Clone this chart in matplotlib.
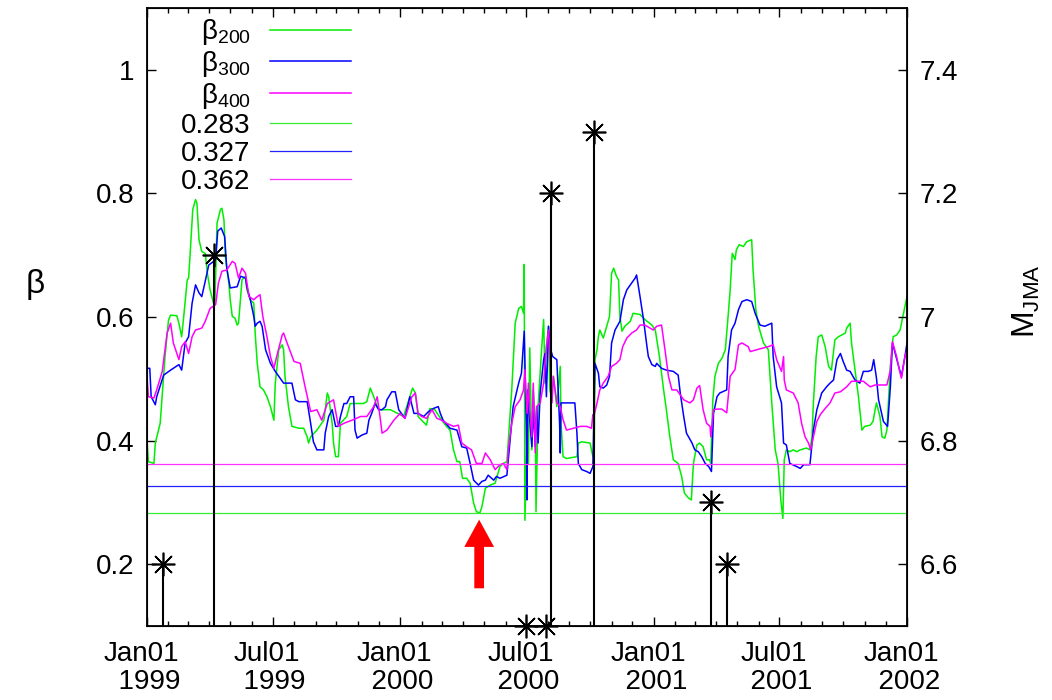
import matplotlib
matplotlib.use("Agg")
import matplotlib.pyplot as plt
import matplotlib.dates as mdates
from matplotlib.ticker import FuncFormatter
from matplotlib.transforms import ScaledTranslation
import pandas as pd

plt.rcParams['font.family'] = ['Liberation Sans', 'DejaVu Sans']
plt.rcParams['mathtext.fontset'] = 'custom'
plt.rcParams['mathtext.rm'] = 'Liberation Sans'
plt.rcParams['mathtext.it'] = 'Liberation Sans:italic'
plt.rcParams['mathtext.default'] = 'regular'

start = pd.Timestamp('1999-01-01')
end = pd.Timestamp('2002-01-01')

# beta_200 : days since 1999-01-01 and value
b200_day = [0, 2, 10, 12, 19, 26, 31, 34, 43, 46, 50, 53, 58, 60, 62, 66, 70, 72, 75, 79,
            84, 87, 91, 96, 98, 101, 106, 108, 111, 113, 118, 120, 123, 127, 130, 132, 135, 137, 142, 144,
            149, 154, 156, 159, 163, 168, 173, 178, 183, 185, 190, 195, 197, 199, 204, 209, 219, 226, 231, 233,
            236, 245, 255, 260, 262, 267, 269, 272, 276, 279, 288, 293, 312, 317, 322, 327, 332, 336, 351, 365,
            370, 379, 383, 387, 391, 396, 403, 408, 415, 425, 432, 437, 442, 447, 451, 455, 461, 466, 471, 475,
            480, 483, 488, 495, 502, 509, 514, 519, 526, 531, 536, 540, 543, 544, 545, 548, 550, 552, 555, 557,
            560, 561, 564, 569, 572, 574, 576, 579, 581, 584, 586, 591, 596, 597, 600, 605, 620, 622, 627, 639,
            643, 645, 646, 649, 651, 653, 658, 663, 667, 670, 673, 677, 680, 682, 685, 689, 697, 701, 711, 718,
            728, 733, 739, 745, 749, 754, 759, 766, 771, 775, 781, 785, 788, 793, 797, 802, 807, 811, 813, 816,
            819, 824, 829, 834, 838, 841, 844, 848, 850, 854, 860, 865, 872, 874, 878, 882, 889, 896, 901, 906,
            910, 914, 917, 919, 922, 927, 932, 937, 942, 951, 956, 959, 961, 965, 968, 973, 978, 983, 987, 992,
            997, 1002, 1007, 1009, 1014, 1016, 1021, 1026, 1031, 1035, 1043, 1047, 1050, 1052, 1057, 1060, 1064,
            1067, 1072, 1076, 1081, 1086, 1091, 1096]
b200_val = [.401, .366, .363, .396, .428, .536, .595, .603, .602, .590, .568, .601, .660, .663, .698, .774, .790, .784, .725, .706,
            .703, .671, .644, .622, .625, .752, .774, .776, .757, .698, .655, .628, .601, .598, .587, .590, .633, .660, .666, .644,
            .628, .622, .574, .525, .487, .482, .471, .455, .433, .493, .547, .555, .547, .504, .455, .423, .420, .420, .406, .396,
            .406, .417, .433, .477, .471, .428, .396, .374, .374, .428, .439, .460, .460, .463, .485, .471, .455, .450, .450, .442,
            .439, .471, .485, .477, .439, .433, .425, .452, .450, .433, .423, .417, .385, .366, .366, .339, .339, .331, .299, .285,
            .283, .293, .323, .328, .331, .358, .363, .366, .482, .590, .614, .617, .606, .685, .271, .401, .363, .550, .385, .482,
            .428, .285, .455, .547, .596, .493, .552, .585, .482, .466, .504, .455, .520, .428, .374, .371, .374, .396, .398, .396,
            .374, .390, .531, .547, .569, .579, .566, .585, .601, .671, .679, .666, .660, .601, .577, .585, .593, .606, .604, .596,
            .587, .579, .536, .482, .450, .406, .369, .363, .342, .315, .307, .304, .363, .393, .396, .390, .369, .369, .363, .466,
            .504, .525, .533, .547, .601, .644, .703, .693, .709, .717, .714, .722, .725, .676, .612, .585, .558, .547, .461, .385,
            .363, .304, .274, .369, .385, .382, .385, .382, .385, .388, .385, .406, .461, .536, .568, .571, .552, .520, .514, .563,
            .568, .571, .574, .582, .590, .558, .514, .471, .417, .423, .425, .431, .450, .461, .439, .406, .404,
            .417, .520, .568, .571, .579, .606, .633]

# beta_300
b300_day = [0, 4, 6, 12, 14, 24, 34, 46, 50, 55, 60, 65, 70, 75, 79, 84, 89, 96, 99, 102,
            107, 112, 115, 120, 130, 135, 142, 144, 149, 154, 156, 159, 163, 166, 171, 178, 185, 190, 197, 209,
            214, 219, 231, 236, 240, 245, 255, 257, 262, 267, 272, 276, 279, 284, 288, 293, 298, 300, 303, 310,
            317, 320, 324, 329, 334, 339, 344, 346, 353, 358, 363, 372, 379, 385, 391, 399, 406, 413, 420, 423,
            427, 437, 447, 454, 461, 466, 471, 478, 483, 488, 492, 500, 504, 509, 519, 524, 528, 536, 540, 544,
            547, 548, 549, 552, 555, 557, 560, 562, 564, 567, 569, 572, 574, 576, 579, 581, 585, 591, 595, 596,
            597, 605, 617, 620, 622, 627, 634, 639, 643, 646, 651, 653, 658, 663, 667, 670, 675, 682, 687, 692,
            699, 704, 706, 711, 716, 721, 723, 728, 733, 735, 742, 749, 759, 766, 769, 774, 778, 786, 790, 795,
            800, 805, 810, 814, 817, 822, 826, 836, 838, 843, 848, 853, 858, 865, 872, 877, 884, 891, 901, 903,
            908, 915, 918, 922, 927, 937, 942, 947, 956, 961, 966, 973, 980, 985, 990, 995, 1000, 1004, 1009, 1014,
            1021, 1028, 1033, 1040, 1045, 1048, 1052, 1055, 1062, 1068, 1072, 1075, 1079, 1084, 1088, 1093, 1096]
b300_val = [.517, .517, .471, .458, .471, .506, .514, .523, .514, .558, .568, .622, .652, .639, .633, .658, .684, .690, .693, .739,
            .744, .730, .679, .647, .649, .666, .663, .649, .628, .601, .585, .590, .593, .585, .547, .525, .512, .504, .493, .493,
            .466, .463, .463, .428, .398, .385, .385, .412, .439, .450, .423, .423, .439, .460, .460, .471, .471, .417, .404, .409,
            .412, .433, .444, .460, .450, .450, .455, .466, .479, .479, .450, .436, .471, .444, .444, .439, .447, .452, .455, .444,
            .433, .420, .417, .390, .388, .363, .336, .328, .334, .336, .344, .336, .342, .339, .344, .406, .455, .493, .509, .577,
            .423, .304, .482, .433, .390, .450, .390, .455, .396, .477, .498, .531, .541, .471, .585, .552, .536, .531, .428, .380,
            .461, .461, .461, .412, .363, .353, .350, .347, .358, .525, .509, .487, .485, .490, .504, .558, .579, .593, .628, .644,
            .655, .663, .668, .633, .596, .552, .536, .523, .520, .525, .517, .514, .512, .506, .477, .439, .412, .396, .385, .382,
            .374, .363, .358, .350, .444, .471, .477, .482, .536, .579, .590, .612, .625, .628, .625, .606, .587, .585, .590, .536,
            .487, .461, .396, .393, .363, .358, .355, .361, .361, .417, .450, .477, .487, .493, .498, .531, .541, .528, .514, .512,
            .498, .493, .512, .512, .514, .531, .501, .466, .431, .423, .487, .558, .541, .520, .504, .536, .558]

# beta_400
b400_day = [0, 2, 10, 14, 22, 29, 34, 38, 46, 50, 55, 60, 65, 70, 79, 84, 91, 99, 103, 108,
            115, 123, 127, 132, 137, 142, 147, 154, 159, 163, 167, 173, 178, 183, 187, 195, 197, 202, 212, 221,
            228, 236, 245, 252, 260, 269, 276, 284, 298, 308, 317, 327, 332, 336, 339, 346, 356, 365, 372, 382,
            387, 391, 396, 403, 411, 418, 425, 432, 442, 449, 454, 461, 468, 475, 483, 488, 495, 502, 509, 514,
            519, 521, 526, 531, 538, 543, 545, 548, 550, 552, 555, 557, 560, 562, 567, 572, 576, 579, 581, 584,
            586, 591, 596, 600, 605, 615, 625, 634, 641, 643, 645, 649, 653, 658, 665, 670, 677, 682, 686, 692,
            699, 706, 711, 718, 730, 735, 742, 747, 752, 757, 764, 774, 783, 788, 793, 797, 802, 807, 812, 813,
            817, 822, 829, 836, 841, 848, 853, 858, 867, 870, 879, 889, 896, 903, 908, 915, 918, 919, 922, 932,
            939, 944, 949, 954, 957, 961, 966, 971, 978, 985, 992, 1000, 1009, 1016, 1026, 1033, 1043, 1050, 1059, 1067,
            1072, 1075, 1081, 1085, 1088, 1093, 1096]
b400_val = [.504, .471, .469, .482, .512, .574, .590, .558, .531, .552, .560, .541, .568, .579, .582, .593, .614, .620, .655, .674,
            .676, .690, .687, .663, .679, .671, .633, .628, .633, .636, .601, .568, .536, .517, .536, .571, .574, .558, .528, .525,
            .487, .447, .450, .433, .460, .466, .423, .428, .434, .439, .439, .455, .471, .439, .412, .417, .433, .444, .436, .471,
            .477, .444, .439, .436, .450, .436, .433, .428, .423, .425, .396, .390, .385, .363, .363, .380, .369, .353, .361, .363,
            .353, .385, .428, .455, .466, .482, .515, .444, .493, .450, .406, .493, .380, .455, .461, .493, .552, .579, .541, .461,
            .504, .461, .455, .434, .417, .420, .423, .423, .420, .442, .442, .461, .482, .493, .504, .520, .525, .531, .552, .566,
            .574, .579, .587, .587, .579, .585, .587, .547, .504, .482, .482, .466, .461, .466, .485, .489, .450, .428, .423, .406,
            .450, .451, .451, .445, .504, .515, .555, .558, .552, .544, .547, .550, .552, .555, .531, .512, .536, .498, .482, .477,
            .461, .428, .406, .396, .385, .406, .431, .442, .452, .461, .477, .479, .487, .496, .496, .496, .487, .490, .490, .490,
            .514, .560, .536, .514, .501, .536, .547]

thresholds = [0.283, 0.327, 0.362]
threshold_labels = ['0.283', '0.327', '0.362']

# earthquakes (date, M_JMA)
quake_dates = ['1999-01-24', '1999-04-08', '2000-07-01', '2000-07-30',
               '2000-08-06', '2000-10-06', '2001-03-24', '2001-04-16']
quake_mag = [6.6, 7.1, 6.5, 6.5, 7.2, 7.3, 6.7, 6.6]

arrow_date = '2000-04-24'
arrow_from, arrow_to = 0.161, 0.272

green, blue, magenta = '#00ee00', '#0000ff', '#ff00ff'


def to_dates(days):
    return start + pd.to_timedelta(days, unit='D')


fig = plt.figure(figsize=(10.52, 7), dpi=100)
ax = fig.add_axes([147 / 1052, 1 - 626 / 700, 760 / 1052, 618 / 700])

l1, = ax.plot(to_dates(b200_day), b200_val, color=green, lw=1.1, label='β$_{200}$')
l2, = ax.plot(to_dates(b300_day), b300_val, color=blue, lw=1.1, label='β$_{300}$')
l3, = ax.plot(to_dates(b400_day), b400_val, color=magenta, lw=1.1, label='β$_{400}$')
hl = []
for v, lab, c in zip(thresholds, threshold_labels, ['#33ee33', '#2222ff', '#ff33ff']):
    hl.append(ax.axhline(v, color=c, lw=0.9, label=lab))

# red arrow
xa = mdates.date2num(pd.Timestamp(arrow_date))
ax.arrow(xa, arrow_from, 0, arrow_to - arrow_from, width=14, head_width=43,
         head_length=0.044, length_includes_head=True, color='red', lw=0)

ax.set_xlim(start, end)
ax.set_ylim(0.1, 1.1)
ax.set_yticks([0.2, 0.4, 0.6, 0.8, 1.0])
ax.yaxis.set_major_formatter(FuncFormatter(lambda v, p: '%g' % v))
ax.xaxis.set_major_locator(mdates.MonthLocator(bymonth=[1, 7]))
ax.xaxis.set_minor_locator(mdates.MonthLocator())
ax.xaxis.set_major_formatter(mdates.DateFormatter('%b%d\n  %Y'))
ax.tick_params(axis='x', which='both', direction='in', top=True, labelsize=20, pad=11)
ax.tick_params(axis='x', which='major', length=6.5, width=1)
ax.tick_params(axis='x', which='minor', length=3.5, width=1)
ax.tick_params(axis='y', direction='in', length=6.5, width=1, labelsize=20, pad=9)
for s in ax.spines.values():
    s.set_linewidth(1.3)

ax.set_ylabel('β', rotation=0, fontsize=24, va='center', ha='center')
ax.yaxis.set_label_coords(-0.147, 0.552)

# earthquakes on the right axis
ax2 = ax.twinx()
ax2.set_ylim(6.5, 7.5)
qd = pd.to_datetime(quake_dates)
ax2.vlines(qd, 6.5, quake_mag, color='black', lw=1.5)
ax2.plot(qd, quake_mag, ls='none', marker=(8, 2, 0), ms=17, mew=1.2, color='black', clip_on=False)
ax2.set_yticks([6.6, 6.8, 7.0, 7.2, 7.4])
ax2.yaxis.set_major_formatter(FuncFormatter(lambda v, p: '%g' % v))
ax2.tick_params(axis='y', direction='in', length=6.5, width=1, labelsize=20, pad=9)
ax2.set_ylabel('M$_{JMA}$', rotation=90, fontsize=23, va='center', ha='center')
ax2.yaxis.set_label_coords(1.157, 0.525)

ax.legend(handles=[l1, l2, l3] + hl, loc='upper right', bbox_to_anchor=(0.268, 0.985),
          frameon=False, markerfirst=False, fontsize=20, handlelength=2.9,
          handletextpad=0.7, labelspacing=0.07, borderpad=0, borderaxespad=0)

fig.canvas.draw()
off = ScaledTranslation(-4 / 72, 0, fig.dpi_scale_trans)
for lbl in ax.get_xticklabels():
    lbl.set_linespacing(1.08)
    lbl.set_transform(lbl.get_transform() + off)

fig.savefig('out.png', dpi=100)
